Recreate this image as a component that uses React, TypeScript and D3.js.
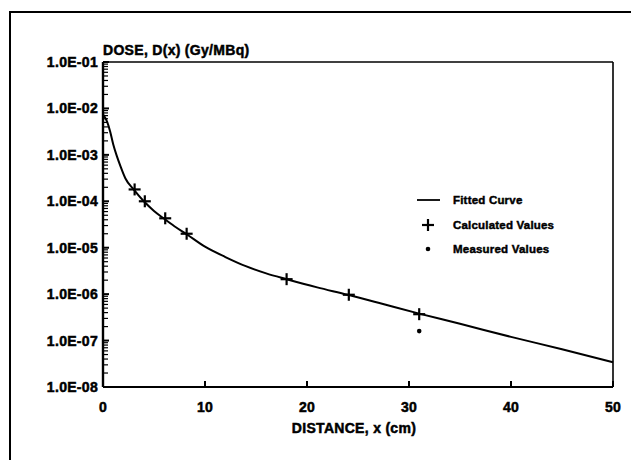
import React from 'react';
import * as d3 from 'd3';

// fitted curve
const curveX = [0, 0.4, 0.7, 1.0, 1.35, 1.7, 2.2, 3.0, 4.0, 5.0, 6.0, 7.0, 8.2, 10, 12, 14, 16, 18, 21, 24, 27, 31, 35, 40, 45, 50];
const curveY = [7.5e-3, 5.2e-3, 3.2e-3, 1.7e-3, 9.5e-4, 5.8e-4, 3.1e-4, 1.8e-4, 1.0e-4, 6.2e-5, 4.2e-5, 2.9e-5, 1.95e-5, 1.05e-5, 6.3e-6, 4.0e-6, 2.8e-6, 2.1e-6, 1.4e-6, 9.7e-7, 6.5e-7, 3.8e-7, 2.3e-7, 1.2e-7, 6.5e-8, 3.4e-8];

// calculated values (+)
const calcX = [3.1, 4.1, 6.1, 8.2, 18, 24.1, 31];
const calcY = [1.8e-4, 1.0e-4, 4.3e-5, 2.0e-5, 2.1e-6, 9.7e-7, 3.7e-7];

// measured values (dot)
const measX = [31];
const measY = [1.6e-7];

const xTicks = [0, 10, 20, 30, 40, 50];
const yTicks = [1e-1, 1e-2, 1e-3, 1e-4, 1e-5, 1e-6, 1e-7, 1e-8];
const yTickLabels = ['1.0E-01', '1.0E-02', '1.0E-03', '1.0E-04', '1.0E-05', '1.0E-06', '1.0E-07', '1.0E-08'];

const legendLabels = ['Fitted Curve', 'Calculated Values', 'Measured Values'];

const W = 631, H = 460;
const left = 103, right = 613, top = 62, bottom = 387;
const font = '"Liberation Sans", Arial, sans-serif';

export default function App() {
  const x = d3.scaleLinear().domain([0, 50]).range([left, right]);
  const y = d3.scaleLog().domain([1e-8, 1e-1]).range([bottom, top]);

  const line = d3.line<number>()
    .x((d, i) => x(curveX[i]))
    .y((d) => y(d))
    .curve(d3.curveMonotoneX);

  // minor ticks 2..9 per decade
  const minor: number[] = [];
  for (let e = -8; e < -1; e++) {
    for (let m = 2; m <= 9; m++) minor.push(m * Math.pow(10, e));
  }

  const plus = (cx: number, cy: number, s: number, k: string) => (
    <g key={k} stroke="#000" strokeWidth={2.2}>
      <line x1={cx - s} x2={cx + s} y1={cy} y2={cy} />
      <line x1={cx} x2={cx} y1={cy - s} y2={cy + s} />
    </g>
  );

  return (
    <svg width={W} height={H} style={{ position: 'absolute', left: 0, top: 0, background: '#fff' }}
         fontFamily={font} fontWeight="bold">
      <rect x={0} y={0} width={W} height={H} fill="#fff" />
      {/* outer frame */}
      <rect x={10} y={12} width={W} height={H} fill="none" stroke="#000" strokeWidth={2} />

      {/* plot frame */}
      <line x1={right} x2={right} y1={top} y2={bottom} stroke="#000" strokeWidth={1.6} />
      <line x1={left} x2={right} y1={top} y2={top} stroke="#000" strokeWidth={1.6} />
      <line x1={left} x2={left} y1={top} y2={bottom} stroke="#000" strokeWidth={2.4} />
      <line x1={left} x2={right} y1={bottom} y2={bottom} stroke="#000" strokeWidth={2.2} />

      {/* y ticks */}
      {minor.map((v, i) => (
        <line key={'m' + i} x1={left} x2={left + 5} y1={y(v)} y2={y(v)} stroke="#000" strokeWidth={1.2} />
      ))}
      <g stroke="#000" strokeWidth={0.5}>
        {yTicks.map((v, i) => (
          <g key={'y' + i}>
            <line x1={left} x2={left + 6} y1={y(v)} y2={y(v)} strokeWidth={2} />
            <text x={left - 5} y={y(v) + 5} textAnchor="end" fontSize={14} letterSpacing={0.3}>{yTickLabels[i]}</text>
          </g>
        ))}

        {/* x ticks */}
        {xTicks.map((v, i) => (
          <g key={'x' + i}>
            <line x1={x(v)} x2={x(v)} y1={bottom} y2={bottom - 6} strokeWidth={2} />
            <text x={x(v)} y={bottom + 25} textAnchor="middle" fontSize={14} letterSpacing={0.3}>{v}</text>
          </g>
        ))}

        {/* axis titles */}
        <text x={left} y={55} fontSize={14} letterSpacing={0.3}>DOSE, D(x) (Gy/MBq)</text>
        <text x={354} y={433} textAnchor="middle" fontSize={14} letterSpacing={0.3}>DISTANCE, x (cm)</text>
      </g>

      {/* fitted curve */}
      <path d={line(curveY) || ''} fill="none" stroke="#000" strokeWidth={2} />

      {calcX.map((v, i) => plus(x(v), y(calcY[i]), 6, 'c' + i))}
      {measX.map((v, i) => (
        <circle key={'d' + i} cx={x(v)} cy={y(measY[i])} r={2.3} fill="#000" />
      ))}

      {/* legend */}
      <line x1={417} x2={440} y1={200} y2={200} stroke="#000" strokeWidth={1.8} />
      {plus(428, 225, 6, 'lp')}
      <circle cx={428} cy={249} r={2.3} fill="#000" />
      {legendLabels.map((t, i) => (
        <text key={'l' + i} x={453} y={204 + i * 24.5} fontSize={11.5} letterSpacing={0.2}
              stroke="#000" strokeWidth={0.45}>{t}</text>
      ))}
    </svg>
  );
}
